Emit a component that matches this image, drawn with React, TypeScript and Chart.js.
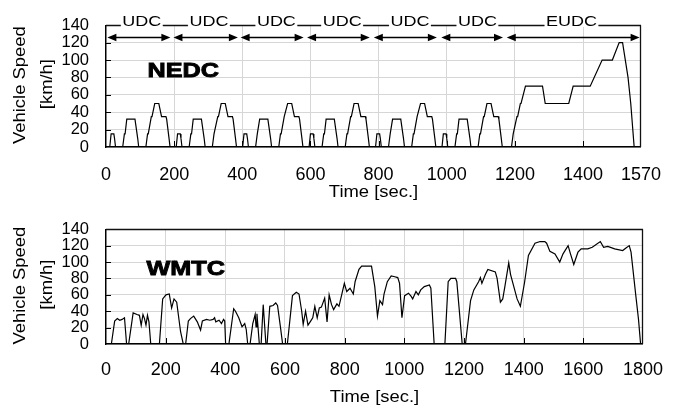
import React, { useEffect, useRef } from "react";
import { Chart, registerables } from "chart.js";

Chart.register(...registerables);

const FONT = '"Liberation Sans", Arial, Helvetica, sans-serif';
const STRETCH = 1.15;

// ---------------- NEDC (top) ----------------
// One UDC (ECE-15) phase, time [s] relative to phase start, speed [km/h]
const UDC_T = [0, 11, 15, 23, 25, 28, 49, 54, 56, 61, 85, 93, 96, 117, 122, 124, 133, 135, 143, 155, 163, 176, 178, 185, 188, 195];
const UDC_V = [0, 0, 15, 15, 10, 0, 0, 15, 15, 32, 32, 10, 0, 0, 15, 15, 35, 35, 50, 50, 35, 35, 32, 10, 0, 0];
// start times of the six UDC phases shown
const UDC_START = [0, 195, 390, 585, 780, 975];
// EUDC phase
const EUDC_START = 1170;
const EUDC_T = [0, 20, 25, 27, 36, 38, 46, 48, 61, 111, 119, 188, 201, 251, 286, 316, 336, 346, 362, 370, 380, 400];
const EUDC_V = [0, 0, 15, 15, 35, 35, 50, 50, 70, 70, 50, 50, 70, 70, 100, 100, 120, 120, 80, 50, 0, 0];

const NEDC_X_TICKS = [0, 200, 400, 600, 800, 1000, 1200, 1400, 1570];
const NEDC_X_MAX = 1570;

const PHASE_LABELS = ["UDC", "UDC", "UDC", "UDC", "UDC", "UDC", "EUDC"];
const PHASE_LABEL_AT = [105, 302, 500, 693, 892, 1090, 1366];
const PHASE_ARROW_FROM = [4, 198, 395, 590, 786, 984, 1176];
const PHASE_ARROW_TO = [189, 387, 580, 774, 971, 1165, 1566];
const PHASE_ARROW_LEVEL = 127;

// ---------------- WMTC (bottom) ----------------
const WMTC_T = [
  0, 18, 29, 38, 46, 54, 62, 69, 76, 91, 104, 112, 118, 124, 129, 134, 139, 144, 150,
  179, 190, 201, 212, 220, 228, 237, 250, 259, 267, 276, 283, 294, 306, 317, 323, 337, 348,
  359, 364, 368, 379, 387, 394, 398, 401, 412, 428, 434, 445, 456, 465, 470, 475, 483, 492,
  500, 503, 506, 514, 520, 527, 536, 540, 549, 560, 569, 575, 585, 592, 608, 625, 638, 647,
  656, 661, 669, 677, 686, 693, 700, 708, 715, 722, 733, 741, 748, 756, 763, 774, 781, 790,
  799, 807, 818, 829, 835, 848, 857, 890, 901, 910, 918, 927, 932, 943, 956, 968, 978, 984,
  992, 1001, 1014, 1023, 1028, 1039, 1047, 1055, 1067, 1084, 1089, 1100, 1136, 1147, 1156,
  1172, 1176, 1194, 1205, 1222, 1233, 1249, 1255, 1260, 1272, 1280, 1305, 1311, 1322, 1330,
  1337, 1350, 1356, 1378, 1389, 1403, 1416, 1438, 1455, 1471, 1477, 1488, 1505, 1521, 1532,
  1549, 1557, 1568, 1582, 1593, 1615, 1630, 1657, 1668, 1682, 1705, 1732, 1743, 1754, 1760,
  1776, 1785, 1792, 1800,
];
const WMTC_V = [
  0, 0, 28, 31, 29, 30, 32, 0, 0, 38, 36, 35, 23, 36, 31, 23, 35, 27, 0,
  0, 55, 60, 61, 44, 55, 51, 15, 0, 0, 28, 31, 34, 27, 17, 28, 30, 29,
  30, 32, 27, 29, 25, 30, 28, 0, 0, 43, 40, 32, 21, 25, 18, 0, 0, 25,
  36, 21, 37, 0, 0, 48, 0, 0, 46, 47, 50, 47, 20, 0, 0, 59, 63, 61,
  40, 24, 40, 23, 28, 32, 46, 32, 44, 45, 56, 27, 60, 48, 42, 49, 46, 60,
  74, 64, 68, 61, 76, 91, 95, 95, 70, 34, 53, 48, 61, 76, 83, 82, 81, 74,
  32, 59, 62, 58, 55, 64, 60, 66, 70, 72, 68, 0, 0, 76, 80,
  80, 76, 0, 0, 53, 66, 76, 81, 74, 85, 91, 88, 80, 51, 55,
  70, 99, 85, 55, 46, 75, 108, 123, 125, 125, 123, 113, 110, 100, 110,
  120, 110, 97, 112, 116, 116, 118, 125, 118, 119, 116, 114, 117, 120, 112,
  59, 30, 0, 0,
];

const WMTC_X_TICKS = [0, 200, 400, 600, 800, 1000, 1200, 1400, 1600, 1800];
const WMTC_X_MAX = 1800;

const Y_TICKS = [0, 20, 40, 60, 80, 100, 120, 140];
const Y_MAX = 140;

// ---------------- drawing helpers ----------------
function stretchedText(
  ctx: CanvasRenderingContext2D,
  text: string,
  x: number,
  y: number,
  font: string,
  align: CanvasTextAlign,
  rotate = 0,
  sx = STRETCH,
  strokeW = 0
) {
  ctx.save();
  ctx.translate(x, y);
  if (rotate) ctx.rotate(rotate);
  ctx.scale(sx, 1);
  ctx.font = font;
  ctx.textAlign = align;
  ctx.textBaseline = "alphabetic";
  ctx.fillStyle = "#000";
  ctx.fillText(text, 0, 0);
  if (strokeW) {
    ctx.lineWidth = strokeW;
    ctx.strokeStyle = "#000";
    ctx.strokeText(text, 0, 0);
  }
  ctx.restore();
}

function makeOverlay(kind: "nedc" | "wmtc") {
  return {
    id: "overlay_" + kind,
    afterDraw(chart: any) {
      const { ctx, chartArea: a, scales } = chart;
      const xs = scales.x;
      const ys = scales.y;
      const R = Math.round(a.right) - 0.5;
      const T = Math.round(a.top) + 0.5;
      ctx.save();

      // inner tick marks
      ctx.strokeStyle = "#000";
      ctx.lineWidth = 1;
      ctx.beginPath();
      xs.ticks.forEach((t: any) => {
        if (t.value <= xs.min || t.value >= xs.max) return;
        const px = Math.round(xs.getPixelForValue(t.value)) + 0.5;
        ctx.moveTo(px, a.bottom);
        ctx.lineTo(px, a.bottom - 6);
      });
      ys.ticks.forEach((t: any) => {
        if (t.value <= ys.min || t.value >= ys.max) return;
        const py = Math.round(ys.getPixelForValue(t.value)) + 0.5;
        ctx.moveTo(a.left, py);
        ctx.lineTo(a.left + 5, py);
      });
      ctx.stroke();

      // right border
      ctx.lineWidth = 1.3;
      ctx.strokeStyle = "#111";
      ctx.beginPath();
      ctx.moveTo(R, a.top);
      ctx.lineTo(R, a.bottom);
      ctx.stroke();

      const labelFont = `15px ${FONT}`;
      if (kind === "wmtc") {
        ctx.beginPath();
        ctx.moveTo(a.left, T);
        ctx.lineTo(a.right, T);
        ctx.stroke();
      } else {
        // top border, interrupted by the phase labels
        ctx.font = labelFont;
        const gaps: [number, number][] = PHASE_LABELS.map((s, i) => {
          const w = ctx.measureText(s).width * 1.2;
          const cx = xs.getPixelForValue(PHASE_LABEL_AT[i]);
          return [cx - w / 2 - 1.5, cx + w / 2 + 1.5];
        });
        let cur = a.left;
        ctx.beginPath();
        gaps.forEach(([g0, g1]) => {
          ctx.moveTo(cur, T);
          ctx.lineTo(g0, T);
          cur = g1;
        });
        ctx.moveTo(cur, T);
        ctx.lineTo(a.right, T);
        ctx.stroke();
        // mask grid under gaps
        ctx.fillStyle = "#fff";
        gaps.forEach(([g0, g1]) => ctx.fillRect(g0 + 0.5, T - 1, g1 - g0 - 1, 2.5));
        PHASE_LABELS.forEach((s, i) => {
          stretchedText(ctx, s, xs.getPixelForValue(PHASE_LABEL_AT[i]), a.top + 1, labelFont, "center", 0, 1.2);
        });
        // double-headed arrows
        const ay = Math.round(ys.getPixelForValue(PHASE_ARROW_LEVEL)) + 0.5;
        ctx.fillStyle = "#000";
        ctx.strokeStyle = "#000";
        ctx.lineWidth = 1.3;
        PHASE_ARROW_FROM.forEach((f, i) => {
          const x1 = xs.getPixelForValue(f);
          const x2 = xs.getPixelForValue(PHASE_ARROW_TO[i]);
          const hl = 9;
          const hh = 3.8;
          ctx.beginPath();
          ctx.moveTo(x1 + hl - 1, ay);
          ctx.lineTo(x2 - hl + 1, ay);
          ctx.stroke();
          ctx.beginPath();
          ctx.moveTo(x1, ay);
          ctx.lineTo(x1 + hl, ay - hh);
          ctx.lineTo(x1 + hl, ay + hh);
          ctx.closePath();
          ctx.fill();
          ctx.beginPath();
          ctx.moveTo(x2, ay);
          ctx.lineTo(x2 - hl, ay - hh);
          ctx.lineTo(x2 - hl, ay + hh);
          ctx.closePath();
          ctx.fill();
        });
      }

      // cycle name
      const nameFont = `bold 21px ${FONT}`;
      if (kind === "nedc") {
        stretchedText(ctx, "NEDC", xs.getPixelForValue(122), ys.getPixelForValue(80), nameFont, "left", 0, 1.2, 0.9);
      } else {
        stretchedText(ctx, "WMTC", xs.getPixelForValue(136), ys.getPixelForValue(84), nameFont, "left", 0, 1.2, 0.9);
      }

      // axis titles
      const titleFont = `16px ${FONT}`;
      const cx = (a.left + a.right) / 2;
      stretchedText(ctx, "Time [sec.]", cx, kind === "nedc" ? 196.5 : 197.5, titleFont, "center");
      const cy = (a.top + a.bottom) / 2 - 1;
      stretchedText(ctx, "Vehicle Speed", 25, cy, titleFont, "center", -Math.PI / 2);
      stretchedText(ctx, "[km/h]", 51.5, cy - 1, titleFont, "center", -Math.PI / 2);

      ctx.restore();
    },
  };
}

function buildNedc() {
  const pts: { x: number; y: number }[] = [];
  UDC_START.forEach((s) => UDC_T.forEach((t, i) => pts.push({ x: s + t, y: UDC_V[i] })));
  EUDC_T.forEach((t, i) => pts.push({ x: EUDC_START + t, y: EUDC_V[i] }));
  return pts;
}

function buildWmtc() {
  return WMTC_T.map((t, i) => ({ x: t, y: WMTC_V[i] }));
}

function makeConfig(kind: "nedc" | "wmtc"): any {
  const isN = kind === "nedc";
  const xTicks = isN ? NEDC_X_TICKS : WMTC_X_TICKS;
  return {
    type: "line",
    data: {
      datasets: [
        {
          data: isN ? buildNedc() : buildWmtc(),
          borderColor: "#000",
          borderWidth: 1.2,
          pointRadius: 0,
          tension: 0,
          fill: false,
        },
      ],
    },
    options: {
      animation: false,
      responsive: false,
      maintainAspectRatio: false,
      events: [],
      layout: { padding: { left: 0, right: 30, top: isN ? 21 : 17, bottom: 0 } },
      plugins: { legend: { display: false }, tooltip: { enabled: false }, title: { display: false } },
      scales: {
        x: {
          type: "linear",
          min: 0,
          max: isN ? NEDC_X_MAX : WMTC_X_MAX,
          afterBuildTicks: (s: any) => {
            s.ticks = xTicks.map((v) => ({ value: v }));
          },
          afterFit: (s: any) => {
            s.height = isN ? 57 : 64;
          },
          grid: { color: "#d6d6d6", lineWidth: 1, drawTicks: false },
          border: { display: true, color: "#000", width: 1.4 },
          ticks: {
            autoSkip: false,
            maxRotation: 0,
            minRotation: 0,
            padding: isN ? 17 : 15,
            color: "#000",
            font: { family: FONT, size: 18 },
            callback: (v: any) => String(v),
          },
        },
        y: {
          min: 0,
          max: Y_MAX,
          afterBuildTicks: (s: any) => {
            s.ticks = Y_TICKS.map((v) => ({ value: v }));
          },
          afterFit: (s: any) => {
            s.width = 106;
          },
          grid: { color: "#d6d6d6", lineWidth: 1, drawTicks: false },
          border: { display: true, color: "#000", width: 1.4 },
          ticks: {
            autoSkip: false,
            padding: 17,
            color: "#000",
            font: { family: FONT, size: 16.5, lineHeight: 1 },
            callback: (v: any) => String(v),
          },
        },
      },
    },
    plugins: [makeOverlay(kind)],
  };
}

function Plot({ kind, top }: { kind: "nedc" | "wmtc"; top: number }) {
  const ref = useRef<HTMLCanvasElement>(null);
  useEffect(() => {
    const chart = new Chart(ref.current as HTMLCanvasElement, makeConfig(kind));
    return () => chart.destroy();
  }, [kind]);
  return (
    <canvas
      ref={ref}
      width={678}
      height={204}
      style={{ position: "absolute", left: 0, top, width: 678, height: 204 }}
    />
  );
}

export default function App() {
  return (
    <div
      style={{
        position: "absolute",
        left: 0,
        top: 0,
        width: 678,
        height: 408,
        background: "#fff",
        overflow: "hidden",
      }}
    >
      <Plot kind="nedc" top={0} />
      <Plot kind="wmtc" top={204} />
    </div>
  );
}
